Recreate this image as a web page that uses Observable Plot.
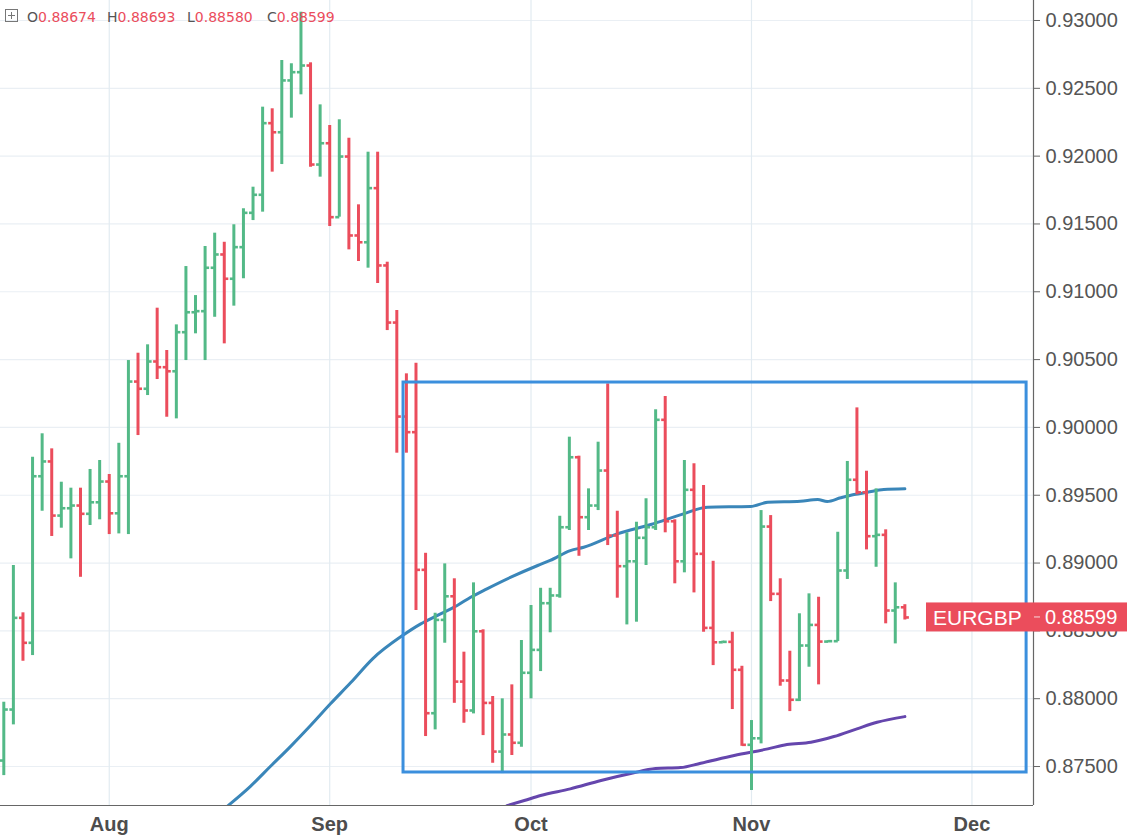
<!DOCTYPE html>
<html>
<head>
<meta charset="utf-8">
<script src="https://cdn.jsdelivr.net/npm/d3@7"></script>
<script src="https://cdn.jsdelivr.net/npm/@observablehq/plot@0.6"></script>
<style>
  body { margin: 0; background: #fff; }
  #wrap { position: relative; width: 1127px; height: 840px; overflow: hidden; }
  #hdr { position: absolute; left: 0; top: 0; width: 400px; height: 30px; font-family: "DejaVu Sans", sans-serif; font-size: 14px; }
  #hdr span.g { position: absolute; top: 9px; white-space: nowrap; color: #555; }
  #hdr span.g b { font-weight: normal; color: #eb4d5c; }
</style>
</head>
<body>
<div id="wrap"><div id="chart"></div><div id="hdr"></div></div>
<script>
const symbol = "EURGBP";
const UP = "#53b987", DOWN = "#eb4d5c";

// bar index 0 = first visible trading day (mid July 2017)
const opens = [0.87544,0.87920,0.88596,0.88412,0.89640,0.89749,0.89350,0.89404,0.89424,0.89363,
0.89448,0.89601,0.89367,0.89640,0.90338,0.90285,0.90486,0.90444,0.90414,0.90702,
0.90849,0.90857,0.91177,0.91275,0.91096,0.91329,0.91582,0.91715,0.92243,0.92176,
0.92558,0.92619,0.92668,0.91938,0.92095,0.91550,0.91997,0.91415,0.91365,0.91764,
0.91194,0.90773,0.90080,0.89965,0.88950,0.87893,0.88581,0.88755,0.88126,0.87913,
0.88497,0.87969,0.87610,0.87736,0.87675,0.88191,0.88360,0.88704,0.88761,0.89264,
0.89780,0.89338,0.89424,0.89682,0.89203,0.88977,0.89013,0.89186,0.89264,0.90056,
0.89308,0.89013,0.89540,0.89068,0.88522,0.88416,0.88419,0.88213,0.87660,0.87708,
0.89269,0.88773,0.88134,0.87992,0.88392,0.88544,0.88421,0.88424,0.88945,0.89614,
0.89522,0.89198,0.89208,0.88650,0.88674];
const highs = [0.87974,0.88982,0.88633,0.89780,0.89953,0.89842,0.89596,0.89552,0.89552,0.89690,
0.89756,0.89653,0.89883,0.90493,0.90547,0.90609,0.90879,0.90567,0.90756,0.91186,
0.90972,0.91334,0.91432,0.91365,0.91494,0.91612,0.91771,0.92361,0.92349,0.92705,
0.92681,0.93061,0.92688,0.92378,0.92226,0.92268,0.92132,0.91641,0.92029,0.92029,
0.91218,0.90862,0.90395,0.90473,0.89072,0.88630,0.88994,0.88884,0.88343,0.88854,
0.88508,0.88016,0.87999,0.88102,0.88429,0.88687,0.88814,0.88814,0.89345,0.89928,
0.89788,0.89547,0.89891,0.90321,0.89382,0.89223,0.89301,0.89474,0.90130,0.90228,
0.89319,0.89756,0.89732,0.89572,0.89013,0.88424,0.88490,0.88239,0.87839,0.89387,
0.89350,0.88884,0.88350,0.88626,0.88773,0.88748,0.88427,0.89227,0.89749,0.90144,
0.89677,0.89547,0.89245,0.88854,0.88693];
const lows = [0.87433,0.87807,0.88276,0.88318,0.89382,0.89196,0.89257,0.89031,0.88895,0.89277,
0.89319,0.89210,0.89215,0.89210,0.89940,0.90235,0.90353,0.90075,0.90063,0.90493,
0.90690,0.90493,0.90812,0.90616,0.90894,0.91096,0.91525,0.91587,0.91882,0.91938,
0.92280,0.92452,0.91918,0.91845,0.91481,0.91550,0.91309,0.91223,0.91174,0.91061,
0.90714,0.89810,0.89810,0.88650,0.87721,0.87770,0.88409,0.87966,0.87819,0.87888,
0.87728,0.87524,0.87448,0.87581,0.87642,0.87999,0.88200,0.88486,0.88741,0.89240,
0.89050,0.89240,0.89387,0.89129,0.88741,0.88544,0.88564,0.88982,0.89240,0.89223,
0.88847,0.88928,0.88780,0.88490,0.88244,0.88412,0.87920,0.87649,0.87323,0.87667,
0.88716,0.88092,0.87905,0.87979,0.88232,0.88102,0.88416,0.88421,0.88879,0.89503,
0.89097,0.88969,0.88552,0.88404,0.88580];
const closes = [0.87920,0.88596,0.88412,0.89640,0.89749,0.89350,0.89404,0.89424,0.89363,0.89448,
0.89601,0.89367,0.89640,0.90338,0.90285,0.90486,0.90444,0.90414,0.90702,0.90849,
0.90857,0.91177,0.91275,0.91096,0.91329,0.91582,0.91715,0.92243,0.92176,0.92558,
0.92619,0.92668,0.91938,0.92095,0.91550,0.91997,0.91415,0.91365,0.91764,0.91194,
0.90773,0.90080,0.89965,0.88950,0.87893,0.88581,0.88755,0.88126,0.87913,0.88497,
0.87969,0.87610,0.87736,0.87675,0.88191,0.88360,0.88704,0.88761,0.89264,0.89780,
0.89338,0.89424,0.89682,0.89203,0.88977,0.89013,0.89186,0.89264,0.90056,0.89308,
0.89013,0.89540,0.89068,0.88522,0.88416,0.88419,0.88213,0.87660,0.87708,0.89269,
0.88773,0.88134,0.87992,0.88392,0.88544,0.88421,0.88424,0.88945,0.89614,0.89522,
0.89198,0.89208,0.88650,0.88674,0.88599];

// moving averages (bar index, value)
const blueIdx = [23.4,25.7,27.8,29.9,32.0,34.1,36.2,38.5,41.6,43.5,45.2,47.3,48.7,50.4,52.9,55.7,57.0,59.1,60.5,64.0,67.5,70.9,73.4,77.9,79.7,83.1,84.9,85.9,87.3,88.7,90.1,91.8,94.0];
const blueVal = [0.87212,0.87352,0.87500,0.87647,0.87802,0.87964,0.88119,0.88296,0.88466,0.88552,0.88613,0.88687,0.88748,0.88810,0.88896,0.88982,0.89019,0.89092,0.89117,0.89215,0.89284,0.89363,0.89412,0.89417,0.89448,0.89456,0.89468,0.89454,0.89481,0.89505,0.89522,0.89542,0.89547];
const purpleIdx = [52.5,54.3,56.0,59.1,62.3,65.4,68.0,70.6,72.7,76.2,79.7,81.7,84.2,86.6,89.0,91.1,94.0];
const purpleVal = [0.87212,0.87249,0.87286,0.87335,0.87397,0.87448,0.87485,0.87492,0.87524,0.87581,0.87630,0.87662,0.87679,0.87721,0.87778,0.87826,0.87868];

const monthIdx = [11, 34, 55, 78, 101];
const monthLabels = ["Aug", "Sep", "Oct", "Nov", "Dec"];
const priceTicks = [0.875, 0.88, 0.885, 0.89, 0.895, 0.90, 0.905, 0.91, 0.915, 0.92, 0.925, 0.93];

// range box annotation (bar index / price)
const boxStart = 41.7, boxEnd = 106.7, boxTop = 0.90331, boxBottom = 0.87456;

const xDomain = [-0.344, 107.42];
const yDomain = [0.872126, 0.931474];

const bars = closes.map((c, i) => ({i, o: opens[i], h: highs[i], l: lows[i], c, col: c >= opens[i] ? UP : DOWN}));
const blue = blueIdx.map((x, k) => ({x, y: blueVal[k]}));
const purple = purpleIdx.map((x, k) => ({x, y: purpleVal[k]}));
const fmt = d3.format(".5f");
const FONT = "'Liberation Sans', Arial, sans-serif";

const plot = Plot.plot({
  width: 1127, height: 840,
  marginLeft: 0, marginRight: 94, marginTop: 0, marginBottom: 35,
  x: {domain: xDomain, label: null},
  y: {domain: yDomain, label: null},
  color: {type: "identity"},
  style: {fontFamily: FONT, background: "#fff", overflow: "visible"},
  marks: [
    Plot.ruleY(priceTicks, {stroke: "#eaeff4", strokeWidth: 1.2}),
    Plot.ruleX(monthIdx, {stroke: "#e2ebf1", strokeWidth: 1.2}),
    Plot.line(blue, {x: "x", y: "y", stroke: "#3a86b9", strokeWidth: 3, curve: "monotone-x", clip: true}),
    Plot.line(purple, {x: "x", y: "y", stroke: "#6546ad", strokeWidth: 3, curve: "monotone-x", clip: true}),
    Plot.ruleX(bars, {x: "i", y1: "l", y2: "h", stroke: "col", strokeWidth: 3}),
    Plot.link(bars, {x1: d => d.i - 0.42, x2: "i", y1: "o", y2: "o", stroke: "col", strokeWidth: 2.6}),
    Plot.link(bars, {x1: "i", x2: d => d.i + 0.42, y1: "c", y2: "c", stroke: "col", strokeWidth: 2.6}),
    Plot.axisY(priceTicks, {anchor: "right", tickSize: 0, tickPadding: 12, tickFormat: fmt, fontSize: 20, fill: "#555", label: null}),
    Plot.axisX(monthIdx, {anchor: "bottom", tickSize: 0, tickPadding: 11, fontSize: 20, fontWeight: "bold", fill: "#4d4d4d", label: null,
      tickFormat: d => monthLabels[monthIdx.indexOf(d)]}),
    Plot.rect([{x1: boxStart, x2: boxEnd, y1: boxBottom, y2: boxTop}], {x1: "x1", x2: "x2", y1: "y1", y2: "y2", fill: "none", stroke: "#3b8fdd", strokeWidth: 3, ariaLabel: "box"}),
    Plot.axisY(priceTicks, {anchor: "right", tickSize: 6, tickFormat: () => "", stroke: "#666", label: null}),
    Plot.ruleX([xDomain[1]], {stroke: "#666", strokeWidth: 1.2}),
    Plot.ruleY([yDomain[0]], {stroke: "#666", strokeWidth: 1.2})
  ]
});
document.getElementById("chart").appendChild(plot);

// last-price label, positioned through the plot's own scales
const last = bars[bars.length - 1];
const svg = d3.select(plot);
const yC = plot.scale("y").apply(last.c);
const xR = plot.scale("x").apply(xDomain[1]);
const g = svg.insert("g", "[aria-label='box']").attr("text-anchor", "start");
g.append("rect").attr("x", xR - 107).attr("y", yC - 14.5).attr("width", 1127 - (xR - 107)).attr("height", 29).attr("fill", last.col);
g.append("text").attr("x", xR - 100).attr("y", yC).attr("dy", "0.36em").attr("fill", "#fff").attr("text-anchor", "start")
  .attr("font-size", 21).attr("font-family", FONT).text(symbol);
g.append("line").attr("x1", xR + 1).attr("x2", xR + 7).attr("y1", yC).attr("y2", yC).attr("stroke", "#f6c3c8").attr("stroke-width", 1.2);
g.append("text").attr("x", xR + 12).attr("y", yC).attr("dy", "0.36em").attr("fill", "#fff").attr("text-anchor", "start")
  .attr("font-size", 20).attr("font-family", FONT).text(fmt(last.c));

// OHLC header
const hdr = document.getElementById("hdr");
hdr.innerHTML = `<svg style="position:absolute;left:5px;top:9px" width="13" height="13"><rect x="0.5" y="0.5" width="12" height="12" fill="none" stroke="#777"/><path d="M6.5 3V10M3 6.5H10" stroke="#777"/></svg>`;
const items = [["O", last.o, 27], ["H", last.h, 107], ["L", last.l, 187], ["C", last.c, 267]];
for (const [k, v, left] of items) {
  const s = document.createElement("span");
  s.className = "g";
  s.style.left = left + "px";
  s.innerHTML = `${k}<b style="color:${last.col}">${fmt(v)}</b>`;
  hdr.appendChild(s);
}
</script>
</body>
</html>
